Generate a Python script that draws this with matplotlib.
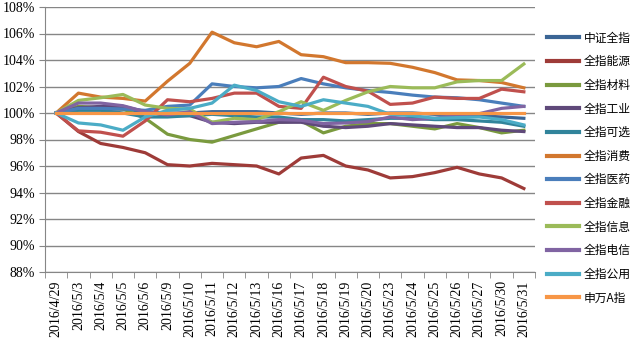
import numpy as np
import matplotlib
matplotlib.use('Agg')
import matplotlib.pyplot as plt
from matplotlib.ticker import FixedLocator, FuncFormatter

# dates
dates = ['2016/4/29', '2016/5/3', '2016/5/4', '2016/5/5', '2016/5/6', '2016/5/9',
         '2016/5/10', '2016/5/11', '2016/5/12', '2016/5/13', '2016/5/16', '2016/5/17',
         '2016/5/18', '2016/5/19', '2016/5/20', '2016/5/23', '2016/5/24', '2016/5/25',
         '2016/5/26', '2016/5/27', '2016/5/30', '2016/5/31']

# series (% of 2016/4/29 level)
zz_all = [100, 100.3, 100.3, 100.3, 100.1, 100.0, 100.0, 100.1, 100.1, 100.1, 100.0,
          99.9, 100.0, 100.0, 99.9, 100.0, 100.0, 99.9, 99.9, 99.8, 99.7, 99.6]
energy = [100, 98.6, 97.7, 97.4, 97.0, 96.1, 96.0, 96.2, 96.1, 96.0, 95.4,
          96.6, 96.8, 96.0, 95.7, 95.1, 95.2, 95.5, 95.9, 95.4, 95.1, 94.3]
material = [100, 100.5, 100.4, 100.3, 99.6, 98.4, 98.0, 97.8, 98.3, 98.8, 99.3,
            99.4, 98.5, 99.0, 99.2, 99.2, 99.0, 98.8, 99.2, 98.9, 98.5, 98.7]
industry = [100, 100.4, 100.5, 100.5, 100.1, 99.8, 99.8, 99.3, 99.2, 99.3, 99.3,
            99.3, 99.0, 98.9, 99.0, 99.2, 99.1, 99.0, 98.9, 98.9, 98.7, 98.6]
optional = [100, 100.2, 100.2, 100.0, 99.7, 99.7, 99.8, 99.9, 99.8, 99.7, 99.7,
            99.5, 99.5, 99.4, 99.5, 99.6, 99.6, 99.5, 99.5, 99.4, 99.3, 99.0]
consume = [100, 101.5, 101.2, 101.1, 100.9, 102.4, 103.75, 106.1, 105.3, 105.0, 105.4,
           104.4, 104.25, 103.8, 103.8, 103.75, 103.45, 103.05, 102.5, 102.45, 102.3, 101.9]
medicine = [100, 100.35, 100.35, 100.3, 100.2, 100.5, 100.6, 102.2, 102.0, 101.9, 102.0,
            102.6, 102.2, 101.9, 101.7, 101.55, 101.35, 101.2, 101.15, 101.0, 100.75, 100.5]
finance = [100, 98.65, 98.55, 98.25, 99.4, 101.0, 100.85, 101.1, 101.5, 101.5, 100.5,
           100.35, 102.7, 102.0, 101.65, 100.65, 100.75, 101.2, 101.1, 101.1, 101.8, 101.6]
info = [100, 100.95, 101.15, 101.4, 100.6, 100.35, 100.3, 99.3, 99.6, 99.5, 100.1,
        100.85, 100.2, 100.95, 101.6, 102.0, 101.9, 101.9, 102.35, 102.45, 102.45, 103.7]
telecom = [100, 100.75, 100.75, 100.55, 100.1, 99.85, 100.1, 99.2, 99.3, 99.35, 99.5,
           99.45, 99.2, 99.25, 99.35, 99.7, 99.5, 99.6, 99.85, 99.95, 100.35, 100.5]
utility = [100, 99.25, 99.1, 98.7, 99.7, 100.2, 100.35, 100.75, 102.1, 101.7, 100.85,
           100.5, 101.0, 100.75, 100.5, 99.9, 99.8, 99.6, 99.65, 99.7, 99.5, 99.1]
sw_a = [100] * 22

names = ['中证全指', '全指能源', '全指材料', '全指工业', '全指可选', '全指消费',
         '全指医药', '全指金融', '全指信息', '全指电信', '全指公用', '申万A指']
series = [zz_all, energy, material, industry, optional, consume,
          medicine, finance, info, telecom, utility, sw_a]
colors = ['#3B6595', '#9E3B38', '#7A9A3E', '#5F497A', '#31849B', '#D2772E',
          '#4A7EBB', '#C0504D', '#9BBB59', '#8064A2', '#4BACC6', '#F79646']


def main():
    plt.rcParams['font.family'] = ['Liberation Serif', 'Noto Sans CJK SC', 'DejaVu Sans']

    fig = plt.figure(figsize=(6.4, 3.39), dpi=100)
    ax = fig.add_axes([45/640, 1 - 272/339, 490/640, 265/339])

    x = np.arange(len(dates))
    for name, vals, c in zip(names, series, colors):
        ax.plot(x, vals, color=c, lw=2.3, label=name, solid_joinstyle='round')

    # axes
    ax.set_xlim(-0.5, len(dates) - 0.5)
    ax.set_ylim(88, 108)
    ax.set_yticks(np.arange(88, 109, 2))
    ax.yaxis.set_major_formatter(FuncFormatter(lambda v, p: '%d%%' % v))
    ax.grid(axis='y', color='#868686', lw=1)
    ax.set_axisbelow(True)

    ax.set_xticks(x)
    ax.set_xticklabels(dates, rotation=90)
    ax.xaxis.set_minor_locator(FixedLocator(np.arange(-0.5, len(dates), 1)))
    ax.tick_params(axis='x', which='major', length=0, pad=6, labelsize=10)
    ax.tick_params(axis='x', which='minor', length=4, color='#868686', direction='out')
    ax.tick_params(axis='y', length=4, color='#868686', labelsize=10, pad=3)

    for s in ['top', 'right']:
        ax.spines[s].set_visible(False)
    for s in ['left', 'bottom']:
        ax.spines[s].set_color('#868686')

    leg = fig.legend(loc='upper left', bbox_to_anchor=(536/640, 1 - 21/339),
                     frameon=False, handlelength=2.75, handletextpad=0.4,
                     labelspacing=0.9, prop={'family': ['Noto Sans CJK SC', 'DejaVu Sans'], 'size': 8.5})
    for line in leg.get_lines():
        line.set_linewidth(3)

    plt.savefig('out.png', dpi=100)


if __name__ == '__main__':
    main()
